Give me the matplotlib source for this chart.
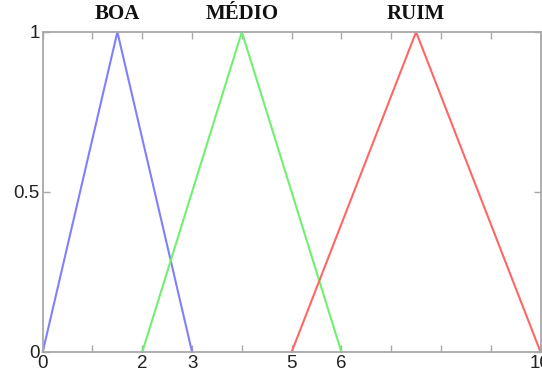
import matplotlib.pyplot as plt

# membership functions (triangular): a, b, c
names = ['BOA', 'MÉDIO', 'RUIM']
params = [[0, 1.5, 3], [2, 4, 6], [5, 7.5, 10]]
colors = ['#8080ff', '#70f070', '#ff6666']
xlabels = [0, 2, 3, 5, 6, 10]

fig = plt.figure(figsize=(5.42, 3.72), dpi=100)
ax = fig.add_axes([0.0788, 0.0538, 0.9185, 0.8602])

for name, p, c in zip(names, params, colors):
    ax.plot(p, [0, 1, 0], color=c, lw=1.5, clip_on=False)
    ax.text(p[1], 1.025, name, ha='center', va='bottom', fontsize=15,
            fontweight='bold', family='Liberation Serif', color='#111111')

ax.set_xlim(0, 10)
ax.set_ylim(0, 1)
ax.set_xticks(range(11))
ax.set_xticklabels([str(i) if i in xlabels else '' for i in range(11)])
ax.set_yticks([0, 0.5, 1])
ax.set_yticklabels(['0', '0.5', '1'])

for s in ax.spines.values():
    s.set_color('#a8a8a8')
    s.set_linewidth(1.3)

ax.tick_params(direction='in', length=5, width=1, color='#a8a8a8',
               top=True, right=True, labelsize=13.5, pad=2,
               labelcolor='#222222')
for t in ax.get_xticklabels() + ax.get_yticklabels():
    t.set_family('Liberation Sans')

fig.savefig('out.png', dpi=100)
